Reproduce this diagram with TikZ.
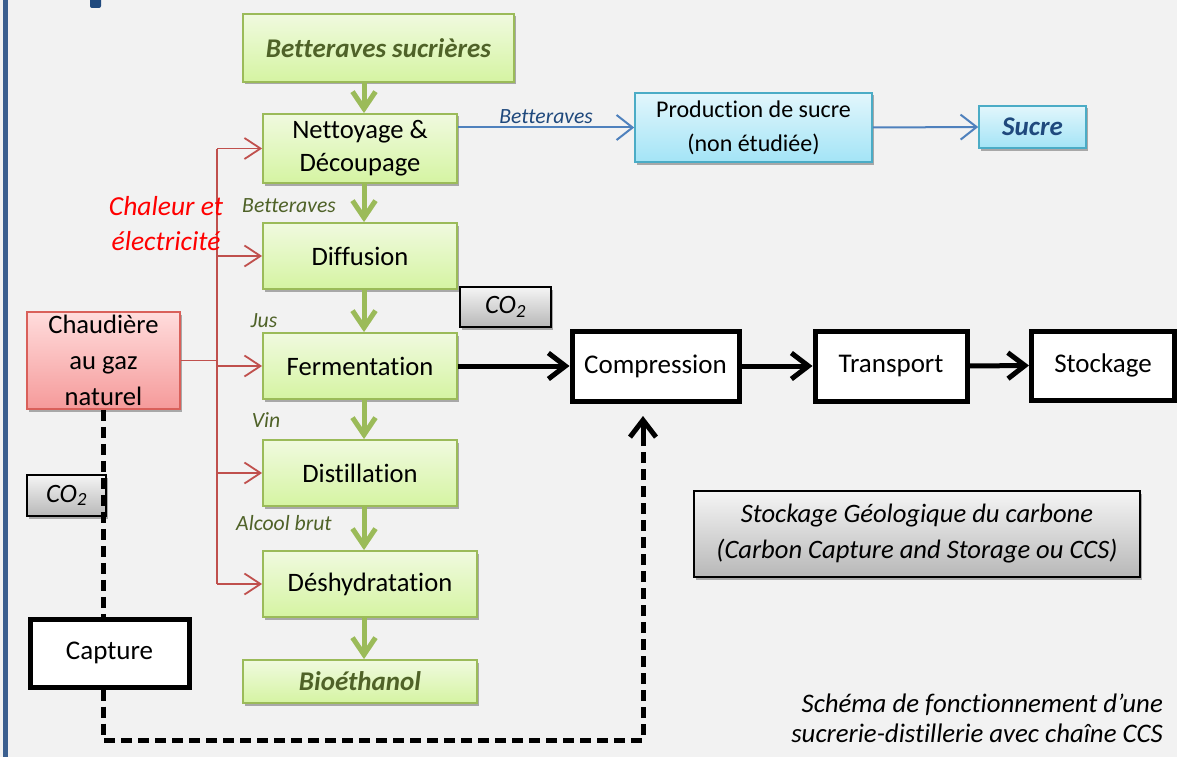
\documentclass[tikz,border=0pt]{standalone}
\usepackage{fontspec}
\setmainfont[Ligatures=NoCommon]{Carlito}
\usetikzlibrary{arrows.meta,shadows}
\definecolor{bgc}{HTML}{F2F2F2}
\definecolor{gborder}{HTML}{9BBB59}
\definecolor{gtop}{HTML}{F0FADF}
\definecolor{gbot}{HTML}{D5F4A2}
\definecolor{olive}{HTML}{4F6228}
\definecolor{rborder}{HTML}{D9605A}
\definecolor{rtop}{HTML}{FFDCDC}
\definecolor{rbot}{HTML}{F59A9A}
\definecolor{redline}{HTML}{C0504D}
\definecolor{bborder}{HTML}{4BACC6}
\definecolor{btop}{HTML}{E2F6FC}
\definecolor{bbot}{HTML}{A3E4F6}
\definecolor{bline}{HTML}{4F81BD}
\definecolor{dblue}{HTML}{1F497D}
\definecolor{frame}{HTML}{3B5F8F}
\tikzset{
  shad/.style={drop shadow={shadow xshift=2pt,shadow yshift=-2.5pt,opacity=0.3,fill=black}},
  gbox/.style={draw=gborder,line width=1.8pt,top color=gtop,bottom color=gbot,shad,
    inner sep=0pt,align=center,font=\fontsize{26.6}{33}\selectfont},
  gtitle/.style={gbox,text=olive,font=\fontsize{27}{30}\selectfont\bfseries\itshape},
  rbox/.style={draw=rborder,line width=1.6pt,top color=rtop,bottom color=rbot,shad,
    inner sep=0pt,align=center,font=\fontsize{26.6}{36}\selectfont},
  bbox/.style={draw=bborder,line width=1.6pt,top color=btop,bottom color=bbot,shad,
    inner sep=0pt,align=center,font=\fontsize{24}{34}\selectfont},
  kbox/.style={draw=black,line width=5pt,fill=white,shad,inner sep=0pt,align=center,
    font=\fontsize{27}{30}\selectfont},
  cbox/.style={draw=black,line width=1.6pt,top color=white!96!black,bottom color=black!28,shad,
    inner sep=0pt,align=center,font=\fontsize{26.5}{30}\selectfont\itshape},
  garrow/.style={draw=gborder,line width=5pt,-{Straight Barb[length=17pt,width=23pt]}},
  rarrow/.style={draw=redline,line width=1.8pt,-{Straight Barb[length=16pt,width=21pt]}},
  barrow/.style={draw=bline,line width=2pt,-{Straight Barb[length=16pt,width=25pt]}},
  karrow/.style={draw=black,line width=5pt,-{Straight Barb[length=17pt,width=26pt]}},
  dline/.style={draw=black,line width=5pt,dash pattern=on 11pt off 6pt},
  lab/.style={font=\fontsize{21.7}{25}\selectfont\itshape,text=olive,inner sep=0pt},
}
\begin{document}
\begin{tikzpicture}[x=1pt,y=-1pt]
\useasboundingbox (0,0) rectangle (1177,757);
\fill[bgc] (0,0) rectangle (1177,757);
% frame fragments
\fill[frame] (3,0) rectangle (7.5,757);
\fill[dblue,rounded corners=2pt] (90,-4) rectangle (101,8);

% green process chain
\node[gtitle,minimum width=271pt,minimum height=68pt] (bs) at (378.5,48) {Betteraves sucrières};
\node[gbox,minimum width=194pt,minimum height=69pt] (nd) at (360,148.5) {\raisebox{-7pt}{\parbox{190pt}{\centering Nettoyage \&\\Découpage}}};
\node[gbox,minimum width=194pt,minimum height=66pt] (df) at (360,256) {Diffusion};
\node[gbox,minimum width=194pt,minimum height=66pt] (fm) at (360,366) {Fermentation};
\node[gbox,minimum width=194pt,minimum height=66pt] (ds) at (360,473) {Distillation};
\node[gbox,minimum width=214pt,minimum height=66pt] (dh) at (370,584) {Déshydratation};
\node[gtitle,minimum width=234pt,minimum height=43pt] (bio) at (360,681.5) {Bioéthanol};

\coordinate (gx) at (364,0);
\draw[garrow] (bs.south -| gx) -- (nd.north -| gx);
\draw[garrow] (nd.south -| gx) -- (df.north -| gx);
\draw[garrow] (df.south -| gx) -- (fm.north -| gx);
\draw[garrow] (fm.south -| gx) -- (ds.north -| gx);
\draw[garrow] (ds.south -| gx) -- (dh.north -| gx);
\draw[garrow] (dh.south -| gx) -- (bio.north -| gx);

\node[lab] (l1) at (289,206) {Betteraves};
\node[lab] (l2) at (264,321) {Jus};
\node[lab] (l3) at (266,420) {Vin};
\node[lab] (l4) at (284,523) {Alcool brut};

% boiler and heat
\node[rbox,minimum width=153pt,minimum height=97pt] (ch) at (103.5,360.5) {Chaudière\\au gaz\\naturel};
\coordinate (tr) at (217,0);
\draw[redline,line width=1.8pt] (nd.west -| tr) -- (dh.west -| tr);
\draw[redline,line width=1.8pt] (ch.east) -- (ch.east -| tr);
\draw[rarrow] (nd.west -| tr) -- (nd.west);
\draw[rarrow] (df.west -| tr) -- (df.west);
\draw[rarrow] (fm.west -| tr) -- (fm.west);
\draw[rarrow] (ds.west -| tr) -- (ds.west);
\draw[rarrow] (dh.west -| tr) -- (dh.west);
\node[font=\fontsize{27.5}{35}\selectfont\itshape,text=red,align=center,inner sep=0pt] (ce) at (166,223.5) {Chaleur et\\électricité};

% sugar branch
\node[bbox,minimum width=237pt,minimum height=69pt] (pr) at (753.5,127.5) {Production de sucre\\(non étudiée)};
\node[bbox,minimum width=107pt,minimum height=42pt,text=dblue,font=\fontsize{27}{30}\selectfont\bfseries\itshape] (su) at (1032.5,127) {Sucre};
\draw[barrow] (pr.west -| nd.east) -- node[above=3pt,font=\fontsize{21.7}{25}\selectfont\itshape,text=dblue,inner sep=0pt] {Betteraves} (pr.west);
\draw[barrow] (pr.east) -- (su.west);

% CCS chain
\node[kbox,minimum width=167pt,minimum height=70pt] (co) at (655.5,366) {Compression};
\node[kbox,minimum width=152pt,minimum height=70pt] (tp) at (891,366) {Transport};
\node[kbox,minimum width=143pt,minimum height=69pt] (st) at (1103,365.5) {Stockage};
\draw[karrow] (fm.east) -- (co.west);
\draw[karrow] (co.east) -- (tp.west);
\draw[karrow] (tp.east) -- (st.west);

\node[cbox,minimum width=91pt,minimum height=40pt] (co2a) at (505.5,307) {CO\textsubscript{2}};
\node[cbox,minimum width=79pt,minimum height=41pt] (co2b) at (66.5,495.5) {CO\textsubscript{2}};

\node[kbox,minimum width=159pt,minimum height=68pt] (cap) at (109.5,653) {Capture};
\draw[dline] (ch.south) -- (ch.south |- cap.north);
\coordinate (d1) at (103.5,740);
\coordinate (d2) at (643,740);
\coordinate (d3) at (643,416);
\draw[dline] (cap.south -| ch.south) -- (d1) -- (d2) -- (643,436);
\draw[black,line width=5pt,-{Straight Barb[length=17pt,width=26pt]}] (643,440) -- (d3);

\node[cbox,minimum width=446pt,minimum height=86pt,font=\fontsize{26.6}{36}\selectfont\itshape] (sg) at (917,534) {Stockage Géologique du carbone\\(Carbon Capture and Storage ou CCS)};

\node[anchor=east,align=right,inner sep=0pt,font=\fontsize{26.8}{30}\selectfont\itshape] (cap2) at (1163,718) {Schéma de fonctionnement d’une\\sucrerie-distillerie avec chaîne CCS};
\end{tikzpicture}
\end{document}
